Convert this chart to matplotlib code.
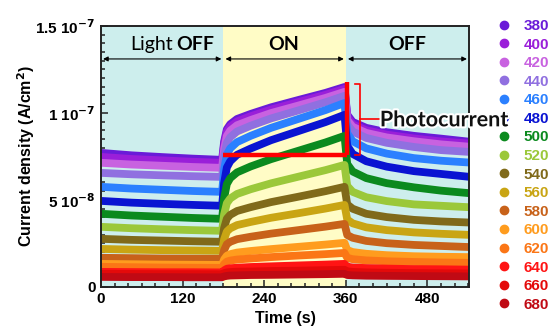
import matplotlib
matplotlib.use("Agg")
import matplotlib.pyplot as plt
from matplotlib.lines import Line2D
from matplotlib.ticker import MultipleLocator, FixedLocator, FixedFormatter
import matplotlib.patheffects as pe

plt.rcParams['font.family'] = ['Liberation Sans', 'DejaVu Sans']
plt.rcParams['mathtext.default'] = 'bf'

# time axis (s), shared by every series
time = [0, 45, 90, 135, 178, 181, 185, 190, 200, 220, 250, 290, 330, 358,
        362, 370, 390, 420, 460, 500, 540]

# current density, in units of 1e-8 A/cm2
j380 = [7.70, 7.56, 7.46, 7.37, 7.30, 8.35, 9.06, 9.35, 9.65, 9.94, 10.32, 10.74, 11.15, 11.49, 9.90, 9.48, 9.14, 8.89, 8.68, 8.52, 8.35]
j400 = [7.47, 7.35, 7.27, 7.19, 7.13, 8.19, 8.92, 9.21, 9.51, 9.81, 10.19, 10.62, 11.04, 11.38, 9.77, 9.34, 9.00, 8.75, 8.53, 8.36, 8.24]
j420 = [7.13, 7.03, 6.96, 6.89, 6.84, 7.93, 8.68, 8.98, 9.29, 9.59, 9.99, 10.42, 10.86, 11.21, 9.59, 9.20, 8.85, 8.59, 8.37, 8.19, 8.06]
j440 = [6.55, 6.47, 6.41, 6.36, 6.32, 7.49, 8.28, 8.60, 8.93, 9.26, 9.68, 10.14, 10.61, 10.98, 9.35, 8.93, 8.56, 8.28, 8.04, 7.86, 7.76]
j460 = [5.75, 5.65, 5.58, 5.51, 5.46, 6.74, 7.61, 7.96, 8.32, 8.68, 9.14, 9.65, 10.16, 10.57, 8.83, 8.37, 7.96, 7.66, 7.40, 7.25, 7.15]
j480 = [4.94, 4.84, 4.77, 4.71, 4.66, 5.97, 6.86, 7.22, 7.59, 7.95, 8.43, 8.95, 9.47, 9.89, 8.11, 7.64, 7.22, 6.91, 6.65, 6.49, 6.33]
j500 = [4.20, 4.10, 4.03, 3.96, 3.91, 5.10, 5.91, 6.25, 6.58, 6.92, 7.34, 7.82, 8.30, 8.68, 7.06, 6.63, 6.25, 5.96, 5.72, 5.53, 5.39]
j520 = [3.45, 3.37, 3.31, 3.26, 3.22, 4.17, 4.81, 5.08, 5.34, 5.61, 5.95, 6.33, 6.71, 7.01, 5.80, 5.46, 5.15, 4.93, 4.74, 4.66, 4.58]
j540 = [2.76, 2.70, 2.66, 2.62, 2.59, 3.38, 3.92, 4.14, 4.36, 4.58, 4.87, 5.18, 5.50, 5.75, 4.74, 4.49, 4.20, 4.01, 3.85, 3.76, 3.70]
j560 = [2.18, 2.14, 2.11, 2.09, 2.07, 2.73, 3.18, 3.36, 3.55, 3.73, 3.97, 4.23, 4.50, 4.71, 3.87, 3.65, 3.42, 3.26, 3.13, 3.05, 2.99]
j580 = [1.67, 1.65, 1.63, 1.62, 1.61, 2.11, 2.45, 2.59, 2.74, 2.88, 3.06, 3.26, 3.46, 3.62, 2.98, 2.82, 2.64, 2.51, 2.41, 2.35, 2.29]
j600 = [1.32, 1.30, 1.28, 1.27, 1.26, 1.58, 1.79, 1.88, 1.97, 2.06, 2.17, 2.30, 2.43, 2.53, 2.12, 2.00, 1.90, 1.82, 1.76, 1.73, 1.71]
j620 = [1.15, 1.13, 1.11, 1.10, 1.09, 1.31, 1.45, 1.51, 1.57, 1.63, 1.71, 1.80, 1.88, 1.95, 1.67, 1.59, 1.52, 1.47, 1.43, 1.40, 1.38]
j640 = [0.86, 0.85, 0.84, 0.84, 0.83, 0.95, 1.04, 1.07, 1.10, 1.14, 1.18, 1.23, 1.28, 1.32, 1.16, 1.11, 1.08, 1.05, 1.02, 1.01, 0.99]
j660 = [0.75, 0.74, 0.73, 0.73, 0.72, 0.79, 0.83, 0.85, 0.87, 0.88, 0.91, 0.93, 0.96, 0.98, 0.89, 0.86, 0.83, 0.81, 0.79, 0.78, 0.77]
j680 = [0.57, 0.56, 0.56, 0.55, 0.55, 0.60, 0.63, 0.65, 0.66, 0.68, 0.69, 0.71, 0.73, 0.75, 0.68, 0.66, 0.64, 0.63, 0.62, 0.61, 0.60]

wavelengths = ['380', '400', '420', '440', '460', '480', '500', '520',
               '540', '560', '580', '600', '620', '640', '660', '680']
colors = ['#6a1bd8', '#9a1fd9', '#c862e0', '#9070e0', '#2b80ff', '#0a14d2',
          '#0b8a1e', '#9bc83a', '#806a1a', '#c9a514', '#c8621a', '#ff9c1e',
          '#fb7616', '#ff1414', '#e40a0a', '#c00a14']
series = [j380, j400, j420, j440, j460, j480, j500, j520,
          j540, j560, j580, j600, j620, j640, j660, j680]

# light on / off periods (s)
phases = [(0, 180, 'off'), (180, 360, 'on'), (360, 541, 'off')]

fig = plt.figure(figsize=(5.55, 3.32), dpi=100)
ax = fig.add_axes([0.182, 0.136, 0.663, 0.786])

for (t0, t1, state) in phases:
    ax.axvspan(t0, t1, color='#cdeeed' if state == 'off' else '#fffcc6', zorder=0, lw=0)

for s, c in zip(series, colors):
    ax.plot(time, [v * 1e-8 for v in s], color=c, lw=5.6,
            solid_capstyle='round', solid_joinstyle='round', zorder=2)

ax.set_xlim(0, 541)
ax.set_ylim(0, 1.5e-7)

# double arrows + phase labels
for (t0, t1, state) in phases:
    ax.annotate('', xy=(t0 + 3, 1.31e-7), xytext=(t1 - 3, 1.31e-7),
                arrowprops=dict(arrowstyle='<|-|>', color='black', lw=0.8,
                                mutation_scale=7, shrinkA=0, shrinkB=0), zorder=4)
lab_font = dict(fontsize=14, family='Lato', va='center', zorder=4)
ax.text(105, 1.395e-7, 'Light', ha='right', **lab_font)
ax.text(110, 1.395e-7, 'OFF', ha='left', fontweight='bold', **lab_font)
ax.text(268, 1.395e-7, 'ON', ha='center', fontweight='bold', **lab_font)
ax.text(450, 1.395e-7, 'OFF', ha='center', fontweight='bold', **lab_font)

# photocurrent marker
ax.plot([180, 362], [7.56e-8, 7.56e-8], color='#ff0000', lw=3.2, zorder=3, solid_capstyle='butt')
ax.plot([361, 361], [7.56e-8, 11.8e-8], color='#ff0000', lw=3.2, zorder=3, solid_capstyle='butt')
ax.plot([373, 381, 381, 373], [11.65e-8, 11.65e-8, 7.6e-8, 7.6e-8], color='#ff0000', lw=1.2, zorder=3)
ax.plot([381, 410], [9.65e-8, 9.65e-8], color='#ff0000', lw=1.2, zorder=3)
ax.text(410, 9.6e-8, 'Photocurrent', ha='left', va='center', fontsize=15.5,
        family='Lato', fontweight='bold', color='#111111', clip_on=False, zorder=10,
        path_effects=[pe.withStroke(linewidth=3, foreground='white')])

ax.xaxis.set_major_locator(MultipleLocator(120))
ax.xaxis.set_minor_locator(MultipleLocator(20))
ax.yaxis.set_major_locator(FixedLocator([0, 5e-8, 1e-7, 1.5e-7]))
ax.yaxis.set_major_formatter(FixedFormatter(['0', '5 10$^{-8}$', '1 10$^{-7}$', '1.5 10$^{-7}$']))
ax.yaxis.set_minor_locator(MultipleLocator(5e-9))
ax.tick_params(which='both', direction='in', top=False, right=False, width=1.1, color='#222222')
ax.tick_params(which='major', length=5, labelsize=11, pad=4)
ax.tick_params(which='minor', length=3)
for lab in ax.get_xticklabels() + ax.get_yticklabels():
    lab.set_fontweight('bold')
for sp in ax.spines.values():
    sp.set_linewidth(1.4)
    sp.set_color('#222222')
    sp.set_zorder(5)

ax.set_xlabel('Time (s)', fontsize=11.5, fontweight='bold', labelpad=3)
ax.set_ylabel('Current density (A/cm$^2$)', fontsize=11.5, fontweight='bold', labelpad=-1)

handles = [Line2D([], [], color=c, marker='o', linestyle='none', markersize=6) for c in colors]
ax.legend(handles, wavelengths, loc='upper left', bbox_to_anchor=(0.897, 0.943),
          bbox_transform=fig.transFigure, frameon=False, labelcolor='linecolor',
          prop=dict(weight='bold', size=11), handlelength=0.8, handletextpad=0.9,
          labelspacing=0.3, borderpad=0, borderaxespad=0)

fig.savefig('out.png', dpi=100)
